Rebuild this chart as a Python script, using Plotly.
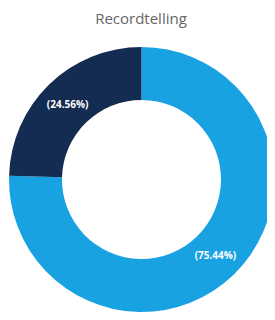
import plotly.graph_objects as go

labels = ["Categorie A", "Categorie B"]
values = [75.44, 24.56]
colors = ["#19A2E2", "#142B52"]
title_text = "Recordtelling"

fig = go.Figure(go.Pie(
    labels=labels,
    values=values,
    hole=0.6,
    sort=False,
    direction="clockwise",
    rotation=0,
    marker=dict(colors=colors, line=dict(width=0)),
    texttemplate="(%{percent:.2%})",
    textposition="inside",
    insidetextorientation="horizontal",
    textfont=dict(color="white", size=10, family="Open Sans", weight="bold"),
    hoverinfo="label+percent",
    showlegend=False,
))

fig.update_layout(
    width=267, height=312,
    margin=dict(l=1, r=1, t=39, b=8),
    paper_bgcolor="white",
    plot_bgcolor="white",
    title=dict(text=title_text, x=0.498, xanchor="center", y=0.965, yanchor="middle",
               font=dict(family="Open Sans", size=15, color="#666666")),
)

fig.write_html("out.html")
